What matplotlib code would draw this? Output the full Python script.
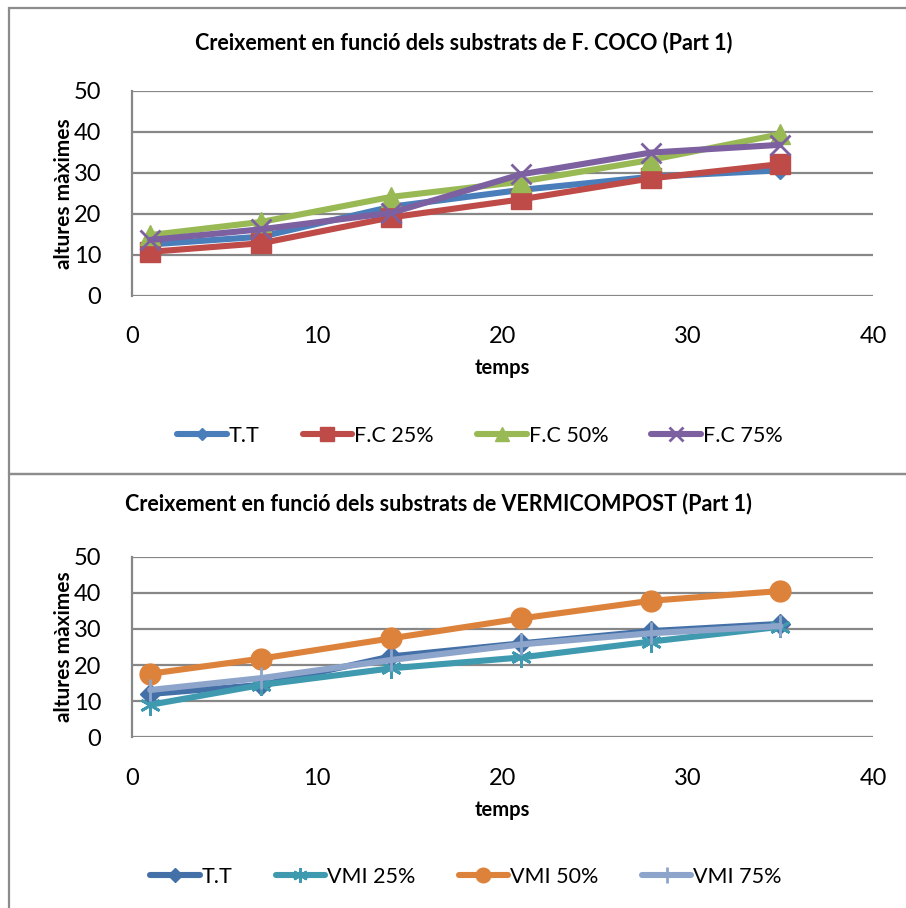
import matplotlib
matplotlib.use("Agg")
import matplotlib.pyplot as plt
from matplotlib.patches import Rectangle

plt.rcParams['font.family'] = ['Lato', 'DejaVu Sans']

# Sampling days
temps = [1, 7, 14, 21, 28, 35]

# Coco fibre substrates
coco_labels = ["T.T", "F.C 25%", "F.C 50%", "F.C 75%"]
coco_tt = [12.5, 14.4, 21.7, 25.8, 29.0, 30.6]
coco_fc25 = [10.7, 12.8, 19.1, 23.5, 28.6, 32.1]
coco_fc50 = [14.8, 18.0, 24.1, 27.8, 33.1, 39.4]
coco_fc75 = [13.6, 16.2, 20.2, 29.6, 34.9, 36.8]

# Vermicompost substrates
verm_labels = ["T.T", "VMI 25%", "VMI 50%", "VMI 75%"]
verm_tt = [12.0, 14.5, 22.4, 26.0, 29.4, 31.4]
verm_vmi25 = [9.0, 14.5, 19.1, 22.1, 26.5, 30.6]
verm_vmi50 = [17.6, 21.8, 27.4, 32.9, 37.8, 40.5]
verm_vmi75 = [13.1, 16.4, 21.4, 25.7, 28.8, 30.8]

x_ticks = [0, 10, 20, 30, 40]
y_ticks = [0, 10, 20, 30, 40, 50]

W, H = 906, 908
fig = plt.figure(figsize=(W / 100, H / 100), dpi=100)

GRID = "#878787"


def px_axes(x0, y0, x1, y1):
    return fig.add_axes([x0 / W, 1 - y1 / H, (x1 - x0) / W, (y1 - y0) / H])


def style_axes(ax):
    ax.set_xlim(0, 40)
    ax.set_ylim(0, 50)
    ax.set_xticks(x_ticks)
    ax.set_yticks(y_ticks)
    ax.grid(axis="y", color=GRID, linewidth=1.6)
    ax.set_axisbelow(True)
    for s in ["top", "right", "bottom"]:
        ax.spines[s].set_visible(False)
    ax.spines["left"].set_color(GRID)
    ax.spines["left"].set_linewidth(1.6)
    ax.tick_params(axis="both", length=0, labelsize=17, colors="black")
    ax.tick_params(axis="y", pad=22)
    ax.tick_params(axis="x", pad=22)


def draw(ax, series, labels, styles):
    handles = []
    for ys, lab, st in zip(series, labels, styles):
        h, = ax.plot(temps, ys, label=lab, linewidth=4.4, solid_capstyle="round",
                     clip_on=False, **st)
        handles.append(h)
    return handles


def legend(handles, cx, cy):
    fig.legend(handles=handles, loc="center", bbox_to_anchor=(cx / W, 1 - cy / H),
               ncol=4, frameon=False, fontsize=15.5, handlelength=2.3,
               handletextpad=0.1, columnspacing=2.0, markerscale=0.7)


def labels(ax):
    ax.set_xlabel("temps", fontsize=14.5, fontweight="bold", labelpad=8)
    ax.set_ylabel("altures màximes", fontsize=15, fontweight="bold", labelpad=0)


# ---- Top chart: coco fibre ----
ax1 = px_axes(131.7, 90.7, 873, 295.7)
style_axes(ax1)
coco_styles = [
    dict(color="#4A7EBB", marker="D", markersize=9),
    dict(color="#BE4B48", marker="s", markersize=14),
    dict(color="#98B954", marker="^", markersize=15),
    dict(color="#7D60A0", marker="x", markersize=14, markeredgewidth=2),
]
h1 = draw(ax1, [coco_tt, coco_fc25, coco_fc50, coco_fc75], coco_labels, coco_styles)
labels(ax1)
fig.text(464 / W, 1 - 43 / H,
         "Creixement en funció dels substrats de F. COCO (Part 1)",
         ha="center", va="center", fontsize=15.5, fontweight="bold")
legend(h1, 480, 436)

# ---- Bottom chart: vermicompost ----
ax2 = px_axes(131.7, 556.7, 873, 737.3)
style_axes(ax2)
verm_styles = [
    dict(color="#4470A8", marker="D", markersize=10),
    dict(color="#3F9AB0", marker=(6, 2, 0), markersize=15, markeredgewidth=2),
    dict(color="#DD823B", marker="o", markersize=15),
    dict(color="#8EA5CB", marker="|", markersize=16, markeredgewidth=2),
]
h2 = draw(ax2, [verm_tt, verm_vmi25, verm_vmi50, verm_vmi75], verm_labels, verm_styles)
labels(ax2)
fig.text(438 / W, 1 - 504 / H,
         "Creixement en funció dels substrats de VERMICOMPOST (Part 1)",
         ha="center", va="center", fontsize=15.5, fontweight="bold")
legend(h2, 466, 877)

# Chart-area borders
for (x0, y0, x1, y1) in [(9, 8, 920, 474), (9, 474, 920, 930)]:
    fig.patches.append(Rectangle((x0 / W, 1 - y1 / H), (x1 - x0) / W, (y1 - y0) / H,
                                 transform=fig.transFigure, fill=False,
                                 edgecolor="#8C8C8C", linewidth=1.6))

fig.savefig("out.png", dpi=100)
